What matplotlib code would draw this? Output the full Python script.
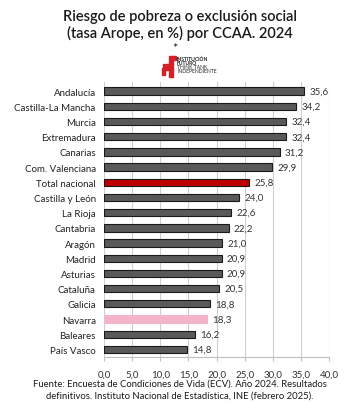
import matplotlib.pyplot as plt
import matplotlib.patches as mpatches

regiones = ["Andalucía", "Castilla-La Mancha", "Murcia", "Extremadura", "Canarias",
            "Com. Valenciana", "Total nacional", "Castilla y León", "La Rioja", "Cantabria",
            "Aragón", "Madrid", "Asturias", "Cataluña", "Galicia", "Navarra", "Baleares",
            "País Vasco"]
valores = [35.6, 34.2, 32.4, 32.4, 31.2, 29.9, 25.8, 24.0, 22.6, 22.2,
           21.0, 20.9, 20.9, 20.5, 18.8, 18.3, 16.2, 14.8]
ticks = [0, 5, 10, 15, 20, 25, 30, 35, 40]

plt.rcParams['font.family'] = ['Lato', 'DejaVu Sans']

colores = []
for r in regiones:
    if r == "Total nacional":
        colores.append('#c00000')
    elif r == "Navarra":
        colores.append('#f4b4c8')
    else:
        colores.append('#595959')

fig = plt.figure(figsize=(3.6, 4.06), dpi=100)
ax = fig.add_axes([104/360, 1 - 358/406, 225/360, 275/406])

pos = list(range(len(regiones)))
for i, (v, c) in enumerate(zip(valores, colores)):
    ec = c if c == '#f4b4c8' else '#1a1a1a'
    ax.barh(i, v, height=0.48, color=c, edgecolor=ec, linewidth=0.8, zorder=3)
    ax.text(v + 0.9, i, f"{v:.1f}".replace('.', ','), va='center', ha='left',
            fontsize=7, color='#333333')

ax.set_xlim(0, 40)
ax.set_ylim(17.5, -0.6)
ax.set_yticks(pos)
ax.set_yticklabels(regiones, fontsize=7, color='#222222')
ax.set_xticks(ticks)
ax.set_xticklabels([f"{t:.1f}".replace('.', ',') for t in ticks], fontsize=7, color='#333333')
ax.tick_params(axis='y', length=0, pad=6)
ax.tick_params(axis='x', length=3, color='#bfbfbf', pad=6)
ax.grid(axis='x', color='#cfcfcf', linewidth=0.8, zorder=0)
for s in ['top', 'right', 'left']:
    ax.spines[s].set_visible(False)
ax.spines['bottom'].set_color('#bfbfbf')

fig.text(0.5, 1 - 17/406, "Riesgo de pobreza o exclusión social", ha='center', va='center',
         fontsize=10.5, fontweight='semibold', color='#1a1a1a')
fig.text(0.5, 1 - 33/406, "(tasa Arope, en %) por CCAA. 2024", ha='center', va='center',
         fontsize=10.5, fontweight='semibold', color='#1a1a1a')
fig.text(0.487, 1 - 49/406, "*", ha='center', va='center', fontsize=9, color='#1a1a1a')

# logo
W, H = 360, 406
def rect(x, y, w, h):
    fig.patches.append(mpatches.Rectangle((x / W, 1 - (y + h) / H), w / W, h / H,
                                          color='#d42027', transform=fig.transFigure))
rect(169, 57, 4, 21)
rect(172, 57, 4, 4)
rect(163, 65, 6, 6)
rect(162, 69, 3, 7)
lineas = ["INSTITUCIÓN", "FUTURO", "THINK TANK", "INDEPENDIENTE"]
for k, t in enumerate(lineas):
    fig.text(177 / W, 1 - (59 + k * 4.2) / H, t, fontsize=3.6, color='#222222', va='center',
             fontweight='bold' if k < 2 else 'normal')

fig.text(0.5, 1 - 384/406, "Fuente: Encuesta de Condiciones de Vida (ECV). Año 2024. Resultados",
         ha='center', va='center', fontsize=6.8, color='#1a1a1a')
fig.text(0.5, 1 - 396/406, "definitivos. Instituto Nacional de Estadística, INE (febrero 2025).",
         ha='center', va='center', fontsize=6.8, color='#1a1a1a')

fig.savefig('out.png', dpi=100, facecolor='white')
